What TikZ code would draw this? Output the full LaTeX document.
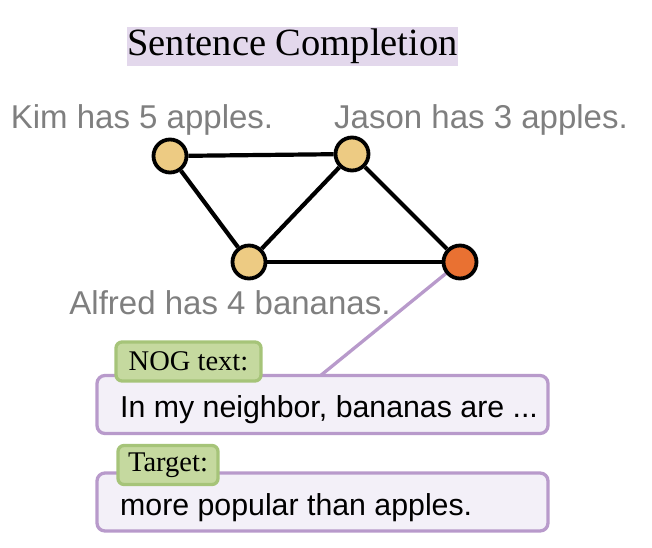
\documentclass[tikz,border=0pt]{standalone}
\usepackage{fontspec}
\setmainfont{Liberation Serif}
\setsansfont{Liberation Sans}
\usetikzlibrary{backgrounds}
\definecolor{nodefill}{HTML}{EDCB83}
\definecolor{orangefill}{HTML}{E97132}
\definecolor{purpline}{HTML}{B89ACB}
\definecolor{boxfill}{HTML}{F3F0F8}
\definecolor{titlefill}{HTML}{E3D8EC}
\definecolor{greenfill}{HTML}{C5D99F}
\definecolor{greenline}{HTML}{A6C479}
\definecolor{graytext}{HTML}{7F7F7F}
\tikzset{
  vert/.style={circle, draw=black, line width=3.8pt, minimum size=33pt, inner sep=0pt, fill=nodefill},
  edge/.style={draw=black, line width=4.2pt},
  link/.style={draw=purpline, line width=3.3pt},
  glabel/.style={text=graytext, font=\sffamily\fontsize{33}{38}\selectfont, inner sep=0pt},
  textbox/.style={draw=purpline, fill=boxfill, line width=3.3pt, rounded corners=8pt, minimum width=451pt, minimum height=58pt, inner sep=0pt},
  boxtext/.style={font=\sffamily\fontsize{30.3}{34}\selectfont, anchor=west, inner sep=0pt},
  tag/.style={draw=greenline, fill=greenfill, line width=3.3pt, rounded corners=6pt, font=\fontsize{28.5}{32}\selectfont, inner sep=0pt, minimum height=39pt}
}
\begin{document}
\begin{tikzpicture}[x=1pt,y=-1pt]
\useasboundingbox (0,0) rectangle (652,547);
% title
\node[fill=titlefill, minimum width=329pt, minimum height=39pt, inner sep=0pt, font=\fontsize{38.5}{42}\selectfont] (title) at (292.5,46.5) {Sentence Completion};
% vertices
\node[vert] (a) at (170,156) {};
\node[vert] (b) at (352,154) {};
\node[vert] (c) at (249,262) {};
\node[vert, fill=orangefill] (d) at (460,262) {};
% boxes
\node[textbox] (nog) at (322.5,404.5) {};
\node[textbox] (tgt) at (322.5,502) {};
\coordinate (link) at (320,376);
\begin{scope}[on background layer]
\draw[link] (d.center) -- (link);
\draw[edge] (a) -- (b);
\draw[edge] (a) -- (c);
\draw[edge] (c) -- (b);
\draw[edge] (b) -- (d);
\draw[edge] (c) -- (d);
\end{scope}
% labels
\node[glabel] (la) at (142,120) {Kim has 5 apples.};
\node[glabel] (lb) at (481,120) {Jason has 3 apples.};
\node[glabel] (lc) at (230,303) {Alfred has 4 bananas.};
% box texts
\node[boxtext] (nt) at (120,410) {In my neighbor, bananas are ...};
\node[boxtext] (tt) at (120,508) {more popular than apples.};
% tags
\node[tag, minimum width=145pt] (nogtag) at (188.5,361.5) {NOG text:};
\node[tag, minimum width=100pt] (tgttag) at (168,465) {Target:};
\end{tikzpicture}
\end{document}
